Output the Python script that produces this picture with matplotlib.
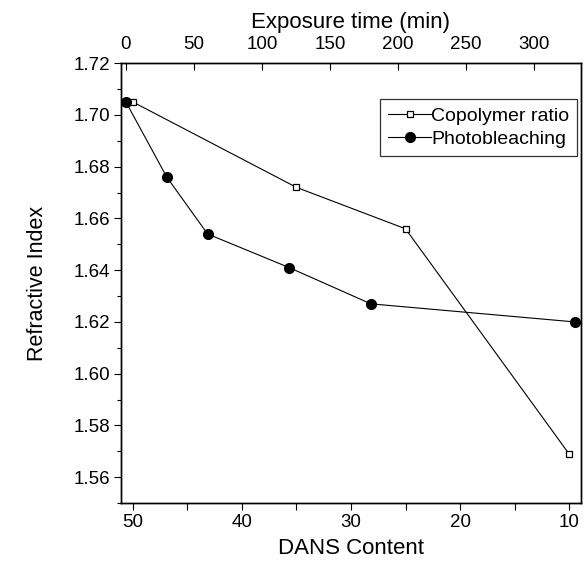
import matplotlib
matplotlib.use('Agg')
import matplotlib.pyplot as plt
from matplotlib.ticker import MultipleLocator, FormatStrFormatter

plt.rcParams['font.family'] = ['Liberation Sans', 'DejaVu Sans']

# Copolymer ratio series (bottom axis: DANS content)
dans_content = [50, 35, 25, 10]
ri_copolymer = [1.705, 1.672, 1.656, 1.569]

# Photobleaching series (top axis: exposure time)
exposure_min = [0, 30, 60, 120, 180, 330]
ri_bleach = [1.705, 1.676, 1.654, 1.641, 1.627, 1.620]

fig = plt.figure(figsize=(5.84, 5.64), dpi=100)
ax = fig.add_axes([0.207, 0.108, 0.788, 0.780])
ax2 = ax.twiny()

l1, = ax.plot(dans_content, ri_copolymer, color='black', lw=0.8,
              marker='s', ms=5, mfc='white', mec='black', mew=0.9,
              label='Copolymer ratio')
l2, = ax2.plot(exposure_min, ri_bleach, color='black', lw=0.8,
               marker='o', ms=7, mfc='black', mec='black',
               label='Photobleaching')

ax.set_xlim(51.1, 8.9)
ax.set_ylim(1.55, 1.72)
ax2.set_xlim(-3.7, 334.5)

ax.xaxis.set_major_locator(MultipleLocator(10))
ax.xaxis.set_minor_locator(MultipleLocator(5))
ax.yaxis.set_major_locator(MultipleLocator(0.02))
ax.yaxis.set_minor_locator(MultipleLocator(0.01))
ax.yaxis.set_major_formatter(FormatStrFormatter('%.2f'))
ax2.xaxis.set_major_locator(MultipleLocator(50))

ax.tick_params(axis='x', which='both', direction='out', length=5, width=0.8,
               labelsize=13.5, pad=3)
ax.tick_params(axis='y', which='major', direction='out', length=5, width=0.8,
               labelsize=13.5, pad=3)
ax.tick_params(axis='y', which='minor', direction='out', length=3, width=0.8)
ax2.tick_params(axis='x', which='major', direction='in', length=5, width=0.8,
                labelsize=13.5, pad=7)

for a in (ax, ax2):
    for s in a.spines.values():
        s.set_linewidth(1.0)

ax.set_xlabel('DANS Content', fontsize=16, labelpad=5)
ax.set_ylabel('Refractive Index', fontsize=15.5, labelpad=18)
ax2.set_xlabel('Exposure time (min)', fontsize=16, labelpad=6)

leg = ax2.legend(handles=[l1, l2], loc='upper right', bbox_to_anchor=(0.991, 0.918),
                 fontsize=14, frameon=True, fancybox=False, edgecolor='black',
                 handlelength=2.2, handletextpad=0.0, borderpad=0.4,
                 labelspacing=0.3, borderaxespad=0.0)
leg.get_frame().set_linewidth(0.9)

fig.savefig('out.png', dpi=100)
